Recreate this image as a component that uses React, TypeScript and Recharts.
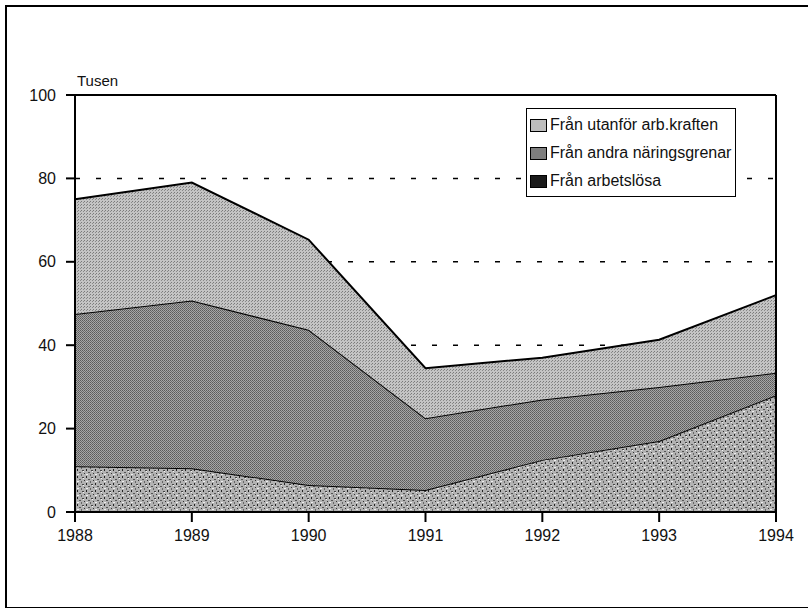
import { AreaChart, Area, XAxis, YAxis, CartesianGrid, ReferenceLine } from "recharts";

const AR = [1988, 1989, 1990, 1991, 1992, 1993, 1994];
const ARBETSLOSA = [11, 10.5, 6.5, 5.3, 12.5, 17, 28];
const ANDRA = [36.5, 40.2, 37.2, 17.2, 14.5, 13, 5.4];
const UTANFOR = [27.5, 28.3, 21.6, 12, 10, 11.3, 18.6];
const Y_TICKS = [0, 20, 40, 60, 80, 100];

const data = AR.map((ar, i) => ({
  ar,
  arbetslosa: ARBETSLOSA[i],
  andra: ANDRA[i],
  utanfor: UTANFOR[i],
}));

const SERIER = [
  { key: "utanfor", namn: "Från utanför arb.kraften", swatch: "#bdbdbd" },
  { key: "andra", namn: "Från andra näringsgrenar", swatch: "#7e7e7e" },
  { key: "arbetslosa", namn: "Från arbetslösa", swatch: "#1a1a1a" },
];

const FONT = "'Liberation Sans', Arial, sans-serif";

function Legenda() {
  return (
    <div
      style={{
        position: "absolute",
        left: 526,
        top: 108,
        border: "1.5px solid #000",
        background: "#fff",
        padding: "2px 4px 1px 3px",
        fontFamily: FONT,
        fontSize: 16,
        color: "#111",
        lineHeight: "28px",
      }}
    >
      {SERIER.map((s) => (
        <div key={s.key} style={{ display: "flex", alignItems: "center", whiteSpace: "nowrap" }}>
          <span
            style={{
              display: "inline-block",
              width: 15,
              height: 11,
              background: s.swatch,
              border: "1px solid #000",
              marginRight: 3,
            }}
          />
          {s.namn}
        </div>
      ))}
    </div>
  );
}

export default function App() {
  return (
    <div style={{ position: "relative", width: 808, height: 608, background: "#fff", overflow: "hidden" }}>
      <style>{`body{margin:0}`}</style>
      {/* ram runt hela figuren */}
      <div
        style={{
          position: "absolute",
          left: 5,
          top: 5,
          width: 820,
          height: 600,
          borderLeft: "2px solid #000",
          borderTop: "2px solid #000",
          borderBottom: "2px solid #000",
        }}
      />
      <div style={{ position: "absolute", left: 77, top: 72, fontFamily: FONT, fontSize: 15, color: "#111" }}>
        Tusen
      </div>
      <AreaChart
        width={808}
        height={608}
        data={data}
        margin={{ top: 95, right: 32, bottom: 66, left: 0 }}
        style={{ position: "absolute", left: 0, top: 0 }}
      >
        <defs>
          <pattern id="ljus" width="3" height="3" patternUnits="userSpaceOnUse">
            <rect width="3" height="3" fill="#c4c4c4" />
            <rect x="0" y="0" width="1" height="1" fill="#7a7a7a" />
            <rect x="2" y="1" width="1" height="1" fill="#8a8a8a" />
          </pattern>
          <pattern id="mellan" width="2" height="2" patternUnits="userSpaceOnUse">
            <rect width="2" height="2" fill="#a6a6a6" />
            <rect x="0" y="0" width="1" height="1" fill="#5a5a5a" />
            <rect x="1" y="1" width="1" height="1" fill="#6a6a6a" />
          </pattern>
          <pattern id="prick" width="9" height="7" patternUnits="userSpaceOnUse">
            <rect width="9" height="7" fill="#b2b2b2" />
            <rect x="1" y="1" width="2" height="1" fill="#444" />
            <rect x="5" y="0" width="1" height="2" fill="#222" />
            <rect x="7" y="3" width="2" height="1" fill="#555" />
            <rect x="3" y="4" width="1" height="1" fill="#333" />
            <rect x="0" y="5" width="1" height="2" fill="#666" />
            <rect x="5" y="5" width="2" height="1" fill="#eee" />
            <rect x="2" y="2" width="1" height="1" fill="#f4f4f4" />
          </pattern>
        </defs>
        <CartesianGrid vertical={false} stroke="#000" strokeWidth={1.5} strokeDasharray="5 16" />
        <XAxis
          dataKey="ar"
          type="number"
          domain={[1988, 1994]}
          ticks={AR}
          height={30}
          stroke="#000"
          strokeWidth={2}
          tickSize={10}
          tickMargin={8}
          tick={{ fill: "#111", fontSize: 16, fontFamily: FONT }}
        />
        <YAxis
          domain={[0, 100]}
          ticks={Y_TICKS}
          width={75}
          stroke="#000"
          strokeWidth={2}
          tickSize={9}
          tickMargin={10}
          tick={{ fill: "#111", fontSize: 16, fontFamily: FONT }}
        />
        <Area
          type="linear"
          dataKey="arbetslosa"
          stackId="1"
          stroke="#000"
          strokeWidth={2}
          fill="url(#prick)"
          fillOpacity={1}
          isAnimationActive={false}
        />
        <Area
          type="linear"
          dataKey="andra"
          stackId="1"
          stroke="#000"
          strokeWidth={2}
          fill="url(#mellan)"
          fillOpacity={1}
          isAnimationActive={false}
        />
        <Area
          type="linear"
          dataKey="utanfor"
          stackId="1"
          stroke="#000"
          strokeWidth={2}
          fill="url(#ljus)"
          fillOpacity={1}
          isAnimationActive={false}
        />
        <ReferenceLine y={100} stroke="#000" strokeWidth={2} />
        <ReferenceLine x={1994} stroke="#000" strokeWidth={2} />
      </AreaChart>
      <Legenda />
    </div>
  );
}
